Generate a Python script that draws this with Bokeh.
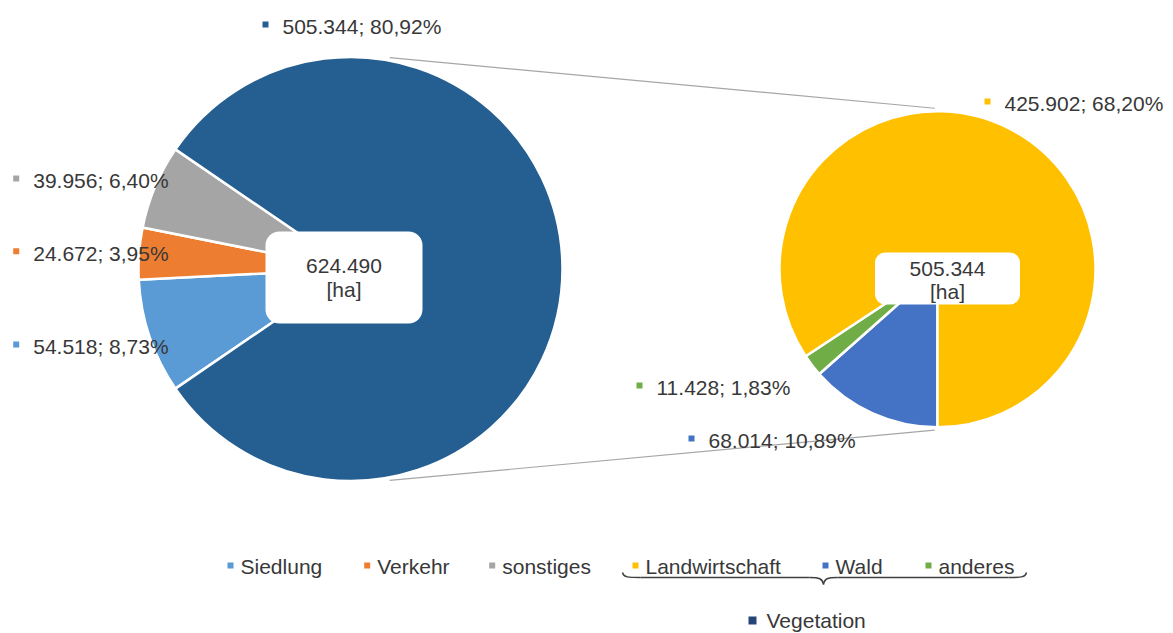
import math
from bokeh.plotting import figure
from bokeh.models import Range1d, ColumnDataSource, BoxAnnotation, Label
from bokeh.core.properties import value
from bokeh.embed import file_html
from bokeh.resources import INLINE

# ---------------- data ----------------
main_categories = ["Siedlung", "Verkehr", "sonstiges", "Vegetation"]
main_values = [54518, 24672, 39956, 505344]
sub_categories = ["Wald", "anderes", "Landwirtschaft"]
sub_values = [68014, 11428, 425902]
unit_label = "[ha]"

colors = {
    "Siedlung": "#5B9BD5",
    "Verkehr": "#ED7D31",
    "sonstiges": "#A5A5A5",
    "Vegetation": "#255E91",
    "Landwirtschaft": "#FFC000",
    "Wald": "#4472C4",
    "anderes": "#70AD47",
}
legend_vegetation_color = "#264478"
legend_row = ["Siedlung", "Verkehr", "sonstiges", "Landwirtschaft", "Wald", "anderes"]

# ---------------- layout (pixel-like data coords) ----------------
W, H = 1173, 633
FONT_NAME = "Liberation Sans"
FONT = value(FONT_NAME)
FS = "21px"
TXT = "#383838"

def Y(img_y):  # image row -> data y
    return H - img_y

def X(img_x):
    return img_x

L_CX, L_CY, L_R = X(350), Y(268.5), 212
R_CX, R_CY, R_R = X(937), Y(268.7), 158

total = sum(main_values)

def de_int(v):
    return f"{v:,}".replace(",", ".")

def de_pct(v):
    return f"{100.0 * v / total:.2f}".replace(".", ",") + "%"

p = figure(width=W, height=H, x_range=Range1d(0, W), y_range=Range1d(0, H),
           output_backend="svg", toolbar_location=None, min_border=0)
p.axis.visible = False
p.grid.visible = False
p.outline_line_color = None
p.background_fill_color = "white"
p.border_fill_color = "white"

# ---------------- main pie ----------------
other_share = sum(main_values[:3]) / total
a = math.pi + other_share * math.pi  # start angle, going clockwise
starts, ends = [], []
for v in main_values:
    span = 2 * math.pi * v / total
    starts.append(a - span)
    ends.append(a)
    a -= span
src_main = ColumnDataSource(dict(cat=main_categories, start=starts, end=ends,
                                 color=[colors[c] for c in main_categories]))
p.wedge(x=L_CX, y=L_CY, radius=L_R, start_angle="start", end_angle="end",
        fill_color="color", line_color="white", line_width=2.5, source=src_main)

# ---------------- secondary pie ----------------
sub_total = sum(sub_values)
a = -math.pi / 2
starts, ends = [], []
for v in sub_values:
    span = 2 * math.pi * v / sub_total
    starts.append(a - span)
    ends.append(a)
    a -= span
src_sub = ColumnDataSource(dict(cat=sub_categories, start=starts, end=ends,
                                color=[colors[c] for c in sub_categories]))
p.wedge(x=R_CX, y=R_CY, radius=R_R, start_angle="start", end_angle="end",
        fill_color="color", line_color="white", line_width=2.5, source=src_sub)

# ---------------- connector lines ----------------
la = math.radians(79.5)
ra = math.radians(91.0)
xs = [[L_CX + (L_R + 3) * math.cos(la), R_CX + (R_R + 3) * math.cos(ra)],
      [L_CX + (L_R + 3) * math.cos(-la), R_CX + (R_R + 3) * math.cos(-ra)]]
ys = [[L_CY + (L_R + 3) * math.sin(la), R_CY + (R_R + 3) * math.sin(ra)],
      [L_CY + (L_R + 3) * math.sin(-la), R_CY + (R_R + 3) * math.sin(-ra)]]
p.multi_line(xs=xs, ys=ys, line_color="#A6A6A6", line_width=1.2)

# ---------------- data labels ----------------
label_pos = {  # marker position in image pixels
    "Vegetation": (265, 24),
    "Landwirtschaft": (987, 101),
    "sonstiges": (15.7, 178),
    "Verkehr": (15.7, 250.7),
    "Siedlung": (15.7, 344),
    "anderes": (639, 385),
    "Wald": (691, 438),
}
all_vals = dict(zip(main_categories, main_values))
all_vals.update(dict(zip(sub_categories, sub_values)))
cats = list(label_pos.keys())
src_lab = ColumnDataSource(dict(
    mx=[X(label_pos[c][0]) for c in cats],
    my=[Y(label_pos[c][1]) for c in cats],
    tx=[X(label_pos[c][0]) + 17 for c in cats],
    ty=[Y(label_pos[c][1]) - 2 for c in cats],
    text=[f"{de_int(all_vals[c])}; {de_pct(all_vals[c])}" for c in cats],
    color=[colors[c] for c in cats],
))
p.scatter(x="mx", y="my", marker="square", size=6, fill_color="color",
          line_color=None, source=src_lab)
p.text(x="tx", y="ty", text="text", text_font=FONT, text_font_size=FS,
       text_color=TXT, text_baseline="middle", text_align="left", source=src_lab)

# ---------------- center boxes ----------------
def center_box(cx, cy, dx, dy, w, h, rad):
    bx, by = cx + dx, cy - dy
    box = BoxAnnotation(left=bx - w / 2, right=bx + w / 2, bottom=by - h / 2, top=by + h / 2,
                        fill_color="white", fill_alpha=1.0, line_color=None,
                        border_radius=rad)
    p.add_layout(box)
    return bx

bxl = center_box(L_CX, L_CY, -6.5, 8.5, 157, 92, 14)
bxr = center_box(R_CX, R_CY, 10.0, 9.3, 145, 52, 10)
for bx, t1y, t2y, v in [(bxl, Y(265), Y(289), total), (bxr, Y(268), Y(291), sub_total)]:
    p.add_layout(Label(x=bx, y=t1y, text=de_int(v), text_font=FONT_NAME, text_font_size=FS,
                       text_color=TXT, text_align="center", text_baseline="middle"))
    p.add_layout(Label(x=bx, y=t2y, text=unit_label, text_font=FONT_NAME, text_font_size=FS,
                       text_color=TXT, text_align="center", text_baseline="middle"))

# ---------------- legend ----------------
leg_x = [230, 366.7, 491.7, 635, 825, 928]
leg_y = 565
src_leg = ColumnDataSource(dict(
    mx=[X(v) for v in leg_x], my=[Y(leg_y)] * len(leg_x),
    tx=[X(v) + 10 for v in leg_x], ty=[Y(leg_y + 1)] * len(leg_x),
    text=legend_row, color=[colors[c] for c in legend_row]))
p.scatter(x="mx", y="my", marker="square", size=6, fill_color="color",
          line_color=None, source=src_leg)
p.text(x="tx", y="ty", text="text", text_font=FONT, text_font_size=FS,
       text_color=TXT, text_baseline="middle", text_align="left", source=src_leg)

p.scatter(x=[X(752)], y=[Y(620)], marker="square", size=8,
          fill_color=legend_vegetation_color, line_color=None)
p.text(x=[X(766)], y=[Y(620)], text=["Vegetation"], text_font=FONT, text_font_size=FS,
       text_color=TXT, text_baseline="middle", text_align="left")

# brace under the secondary-pie legend entries
bl, br, tip = X(622), X(1026), X(823)
yt, ym, yb = Y(572), Y(577), Y(584)
p.bezier(x0=[bl, tip - 14, br, tip + 14], y0=[yt, ym, yt, ym],
         x1=[bl + 18, tip, br - 18, tip], y1=[ym, yb, ym, yb],
         cx0=[bl + 1, tip - 4, br - 1, tip + 4], cy0=[ym, ym, ym, ym],
         cx1=[bl + 6, tip - 1, br - 6, tip + 1], cy1=[ym, ym - 1, ym, ym - 1],
         line_color="#404040", line_width=1.5)
p.segment(x0=[bl + 18, tip + 14], y0=[ym, ym], x1=[tip - 14, br - 18], y1=[ym, ym],
          line_color="#404040", line_width=1.5)

open("out.html", "w").write(file_html(p, INLINE))
